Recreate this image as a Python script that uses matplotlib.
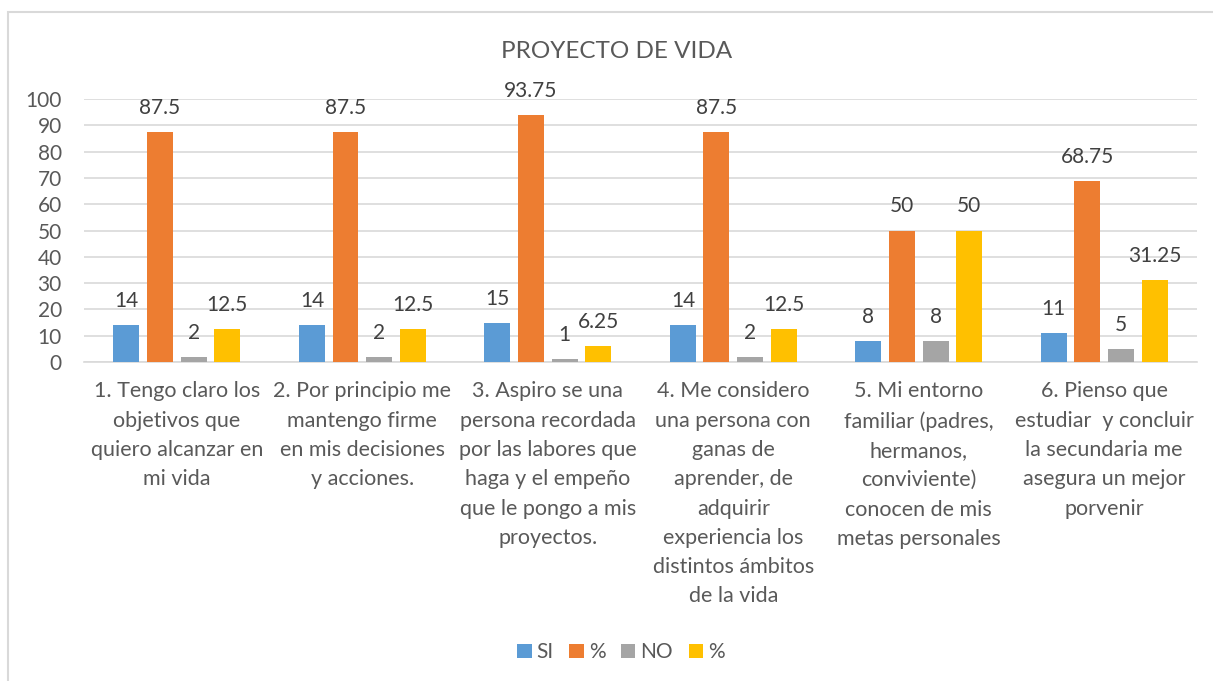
import matplotlib.pyplot as plt
import numpy as np
from matplotlib.patches import Patch, Rectangle

plt.rcParams['font.family'] = ['Lato', 'DejaVu Sans']

# Datos
categorias = [
    "1. Tengo claro los\nobjetivos que\nquiero alcanzar en\nmi vida",
    "2. Por principio me\nmantengo firme\nen mis decisiones\ny acciones.",
    "3. Aspiro se una\npersona recordada\npor las labores que\nhaga y el empeño\nque le pongo a mis\nproyectos.",
    "4. Me considero\nuna persona con\nganas de\naprender, de\nadquirir\nexperiencia los\ndistintos ámbitos\nde la vida",
    "5. Mi entorno\nfamiliar (padres,\nhermanos,\nconviviente)\nconocen de mis\nmetas personales",
    "6. Pienso que\nestudiar  y concluir\nla secundaria me\nasegura un mejor\nporvenir",
]
si = [14, 14, 15, 14, 8, 11]
si_pct = [87.5, 87.5, 93.75, 87.5, 50, 68.75]
no = [2, 2, 1, 2, 8, 5]
no_pct = [12.5, 12.5, 6.25, 12.5, 50, 31.25]

series = [si, si_pct, no, no_pct]
nombres = ['SI', '%', 'NO', '%']
colores = ['#5B9BD5', '#ED7D31', '#A5A5A5', '#FFC000']

texto = '#595959'
fs = 15

fig = plt.figure(figsize=(12.13, 6.81), dpi=100)
ax = fig.add_axes([0.0693, 0.4684, 0.9175, 0.3862])

# Marco del gráfico (solo visible arriba e izquierda)
fig.patches.append(Rectangle((8 / 1213, -0.1), 1.2, 1 - 12 / 681 + 0.1,
                             transform=fig.transFigure, fill=False,
                             edgecolor='#D9D9D9', linewidth=1.5))

x = np.arange(len(categorias))
paso = 0.181
ancho = 0.14
for i, (vals, col) in enumerate(zip(series, colores)):
    pos = x + (i - 1.5) * paso
    barras = ax.bar(pos, vals, width=ancho, color=col, zorder=3)
    for b, v in zip(barras, vals):
        ax.annotate(f'{v:g}', (b.get_x() + b.get_width() / 2, v),
                    xytext=(0, 13), textcoords='offset points',
                    ha='center', va='baseline', fontsize=fs, color='#404040')

ax.set_xlim(-0.5, len(categorias) - 0.5)
ax.set_ylim(0, 100)
ax.set_yticks(range(0, 101, 10))
ax.yaxis.grid(True, color='#D9D9D9', linewidth=1.2, zorder=0)
ax.tick_params(axis='y', length=0, pad=16, labelsize=fs, labelcolor=texto)
ax.set_xticks(x)
ax.set_xticklabels(categorias, fontsize=15.5, color=texto, linespacing=1.58, va='top')
ax.tick_params(axis='x', length=0, pad=14)
for s in ['top', 'right', 'left']:
    ax.spines[s].set_visible(False)
ax.spines['bottom'].set_color('#D9D9D9')
ax.spines['bottom'].set_linewidth(1.2)

fig.text(0.508, 1 - 51 / 681, 'PROYECTO DE VIDA', ha='center', va='center',
         fontsize=17.5, color=texto)

handles = [Patch(facecolor=c) for c in colores]
fig.legend(handles, nombres, loc='center', bbox_to_anchor=(0.512, 1 - 652 / 681),
           ncol=4, frameon=False, fontsize=fs, labelcolor=texto,
           handlelength=0.68, handleheight=0.68, handletextpad=0.25, columnspacing=0.75)

plt.savefig('out.png', dpi=100)
